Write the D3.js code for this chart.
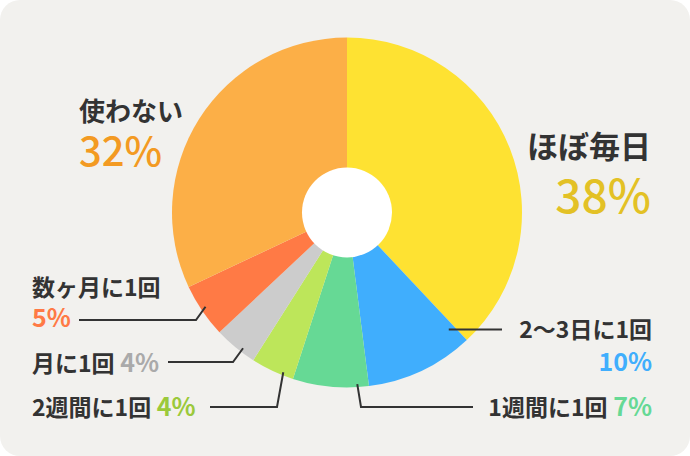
<!DOCTYPE html>
<html>
<head>
<meta charset="utf-8">
<script src="https://cdn.jsdelivr.net/npm/d3@7"></script>
<style>
  body { margin: 0; background: #fff; }
  svg text { font-family: "Noto Sans CJK JP", "Noto Sans", sans-serif; }
</style>
</head>
<body>
<svg id="chart"></svg>
<script>
const width = 690, height = 456;

// données
const categories = ["ほぼ毎日", "2〜3日に1回", "1週間に1回", "2週間に1回", "月に1回", "数ヶ月に1回", "使わない"];
const values = [38, 10, 7, 4, 4, 5, 32];
const pctLabels = ["38%", "10%", "7%", "4%", "4%", "5%", "32%"];

const sliceColors = ["#fee232", "#40aefd", "#66d995", "#bde65a", "#cccccc", "#ff7a45", "#fcaf47"];
const textColors = ["#e3c125", "#40aefd", "#66d995", "#9bc93b", "#aaaaaa", "#ff7a45", "#f39a22"];

const cx = 347, cy = 212.5, radius = 175, hole = 45;

const svg = d3.select("#chart")
    .attr("width", width)
    .attr("height", height);

svg.append("rect")
    .attr("width", width)
    .attr("height", height)
    .attr("rx", 20)
    .attr("fill", "#f2f1ee");

const pie = d3.pie().sort(null).value(d => d);
const arcs = pie(values);
const arc = d3.arc().innerRadius(0).outerRadius(radius);

const g = svg.append("g").attr("transform", `translate(${cx},${cy})`);

g.selectAll(".slice")
    .data(arcs)
    .enter().append("path")
    .attr("class", "slice")
    .attr("d", arc)
    .attr("fill", (d, i) => sliceColors[i]);

g.append("circle").attr("r", hole).attr("fill", "#fff");

// point sur une part : fraction t de l'angle, rayon r
function onSlice(i, t, r) {
    const a = arcs[i].startAngle + t * (arcs[i].endAngle - arcs[i].startAngle);
    return [cx + r * Math.sin(a), cy - r * Math.cos(a)];
}

const ink = "#333333";

// grands libellés
function bigLabel(i, x, y1, y2, anchor, s1, s2) {
    svg.append("text").attr("x", x).attr("y", y1).attr("text-anchor", anchor)
        .attr("font-size", s1).attr("font-weight", 700).attr("fill", ink).text(categories[i]);
    svg.append("text").attr("x", x).attr("y", y2).attr("text-anchor", anchor)
        .attr("font-size", s2).attr("font-weight", 500).attr("fill", textColors[i]).text(pctLabels[i]);
}
bigLabel(0, 651, 158, 213, "end", 31, 46);
bigLabel(6, 79, 121, 166, "start", 26, 40);

// lignes de rappel
const leaders = [
    {i: 1, t: 0.06, r: 155, pts: d => [[d[0], d[1]], [502, d[1]]]},
    {i: 2, t: 0.15, r: 172, pts: d => [d, [361, 407], [473, 407]]},
    {i: 3, t: 0.26, r: 172, pts: d => [d, [277, 407], [210, 407]]},
    {i: 4, t: 0.35, r: 171, pts: d => [d, [233, 362], [168, 362]]},
    {i: 5, t: 0.53, r: 170, pts: d => [d, [196, 320], [79, 320]]}
];
leaders.forEach(l => {
    const p = onSlice(l.i, l.t, l.r);
    svg.append("path")
        .attr("d", d3.line()(l.pts(p)))
        .attr("fill", "none")
        .attr("stroke", ink)
        .attr("stroke-width", 2);
});

function smallLabel(i, x, y, anchor, inline) {
    const t = svg.append("text").attr("x", x).attr("y", y).attr("text-anchor", anchor)
        .attr("font-weight", 700);
    t.append("tspan").attr("font-size", 23).attr("fill", ink).text(categories[i]);
    if (inline) {
        t.append("tspan").attr("font-size", 25).attr("fill", textColors[i]).text(" " + pctLabels[i]);
    }
}
smallLabel(1, 652, 338, "end", false);
svg.append("text").attr("x", 652).attr("y", 371).attr("text-anchor", "end")
    .attr("font-size", 25).attr("font-weight", 700).attr("fill", textColors[1]).text(pctLabels[1]);
smallLabel(2, 652, 416, "end", true);
smallLabel(3, 32, 416, "start", true);
smallLabel(4, 32, 372, "start", true);
smallLabel(5, 32, 296, "start", false);
svg.append("text").attr("x", 32).attr("y", 327)
    .attr("font-size", 25).attr("font-weight", 700).attr("fill", textColors[5]).text(pctLabels[5]);
</script>
</body>
</html>
